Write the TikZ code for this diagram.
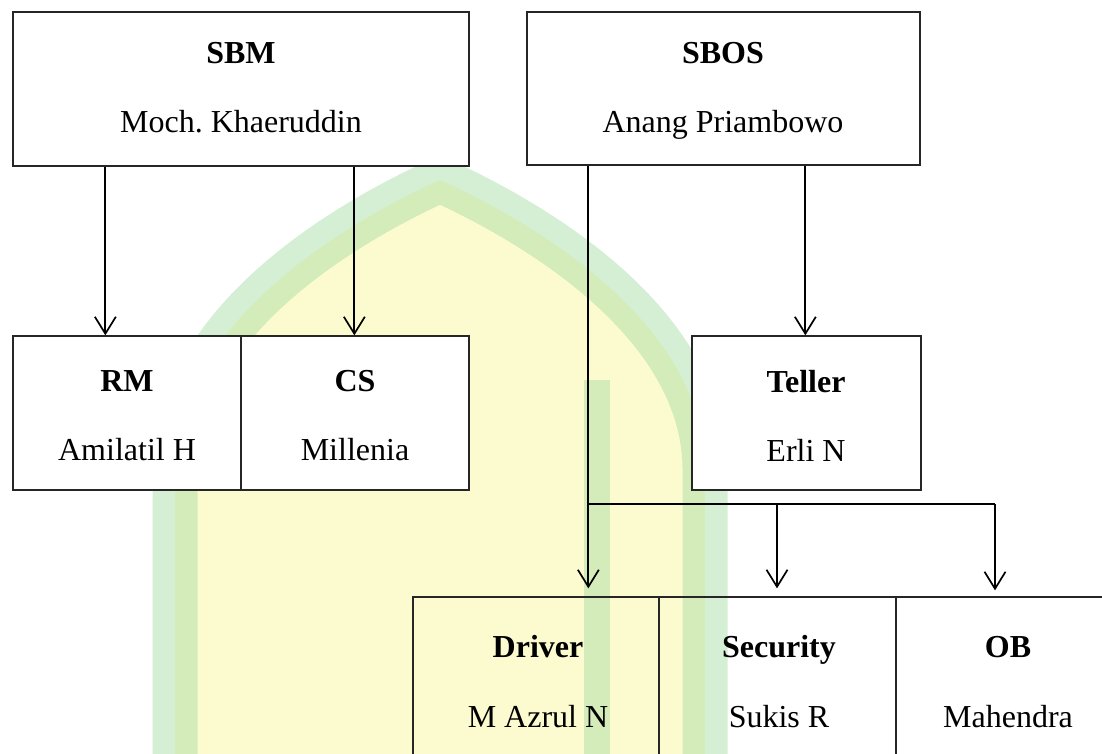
\documentclass[tikz,border=0pt]{standalone}
\usepackage{fontspec}
\setmainfont{Liberation Serif}
\usetikzlibrary{arrows.meta,calc}
\definecolor{wmgreen}{RGB}{150,215,150}
\definecolor{wmyellow}{RGB}{250,248,170}
\frenchspacing
\tikzset{
  box/.style={draw=black!85, line width=1.3pt, rectangle, inner sep=0pt},
  wbox/.style={box, fill=white},
  ttl/.style={font=\fontsize{32}{32}\selectfont\bfseries, anchor=base, inner sep=0pt},
  nm/.style={font=\fontsize{32}{32}\selectfont, anchor=base, inner sep=0pt},
  conn/.style={line width=2pt, black},
  arr/.style={conn, -{Straight Barb[length=17pt,width=21pt,line width=1.7pt]}}
}
\begin{document}
\begin{tikzpicture}[x=1pt,y=-1pt]
\useasboundingbox (0,0) rectangle (1102,753);
\clip (0,0) rectangle (1102,753);
% watermark (faint logo)
\fill[wmyellow, opacity=0.55] (175,800) -- (175,470) .. controls (175,330) and (330,230) .. (440,180) .. controls (550,230) and (705,330) .. (705,470) -- (705,800) -- cycle;
\draw[wmgreen, line width=45pt, opacity=0.4] (175,800) -- (175,470) .. controls (175,330) and (330,230) .. (440,180) .. controls (550,230) and (705,330) .. (705,470) -- (705,800);
\draw[wmgreen, line width=26pt, opacity=0.4] (597,380) -- (597,800);
% boxes
\node[wbox, minimum width=456pt, minimum height=154pt] (sbm) at (241,89) {};
\node[wbox, minimum width=393pt, minimum height=153pt] (sbos) at (723.5,88.5) {};
\node[wbox, minimum width=228pt, minimum height=154pt] (rm) at (127,413) {};
\node[wbox, minimum width=228pt, minimum height=154pt] (cs) at (355,413) {};
\node[wbox, minimum width=229pt, minimum height=154pt] (teller) at (806.5,413) {};
\node[box, minimum width=246pt, minimum height=213pt] (driver) at (536,703.5) {};
\node[box, minimum width=237pt, minimum height=213pt] (security) at (777.5,703.5) {};
\node[box, minimum width=244pt, minimum height=213pt] (ob) at (1018,703.5) {};
% texts
\node[ttl] (tsbm) at (241,63) {SBM};
\node[nm] (nsbm) at (241,132) {Moch. Khaeruddin};
\node[ttl] (tsbos) at (723,63) {SBOS};
\node[nm] (nsbos) at (723,132) {Anang Priambowo};
\node[ttl] (trm) at (127,391) {RM};
\node[nm] (nrm) at (127,460) {Amilatil H};
\node[ttl] (tcs) at (355,391) {CS};
\node[nm] (ncs) at (355,460) {Millenia};
\node[ttl] (ttel) at (806,392) {Teller};
\node[nm] (ntel) at (806,461) {Erli N};
\node[ttl] (tdrv) at (538,657) {Driver};
\node[nm] (ndrv) at (538,727) {M Azrul N};
\node[ttl] (tsec) at (779,657) {Security};
\node[nm] (nsec) at (779,727) {Sukis R};
\node[ttl] (tob) at (1008,657) {OB};
\node[nm] (nob) at (1008,727) {Mahendra};
% connectors
\draw[arr] ($(sbm.south west)+(93,0)$) -- ($(rm.north west)+(93,0)$);
\draw[arr] ($(sbm.south west)+(342,0)$) -- ($(cs.north west)+(114,0)$);
\draw[arr] ($(sbos.south west)+(279,0)$) -- ($(teller.north west)+(114,0)$);
\coordinate (j1) at (589,504);
\coordinate (j2) at (777,504);
\coordinate (j3) at (995,504);
\draw[arr] ($(sbos.south west)+(62,0)$) -- ($(driver.north west)+(176,-8)$);
\draw[conn] (j1) -- (j3);
\draw[arr] (j2) -- ($(security.north -| j2)+(0,-8)$);
\draw[arr] (j3) -- ($(ob.north -| j3)+(0,-6)$);
\end{tikzpicture}
\end{document}
